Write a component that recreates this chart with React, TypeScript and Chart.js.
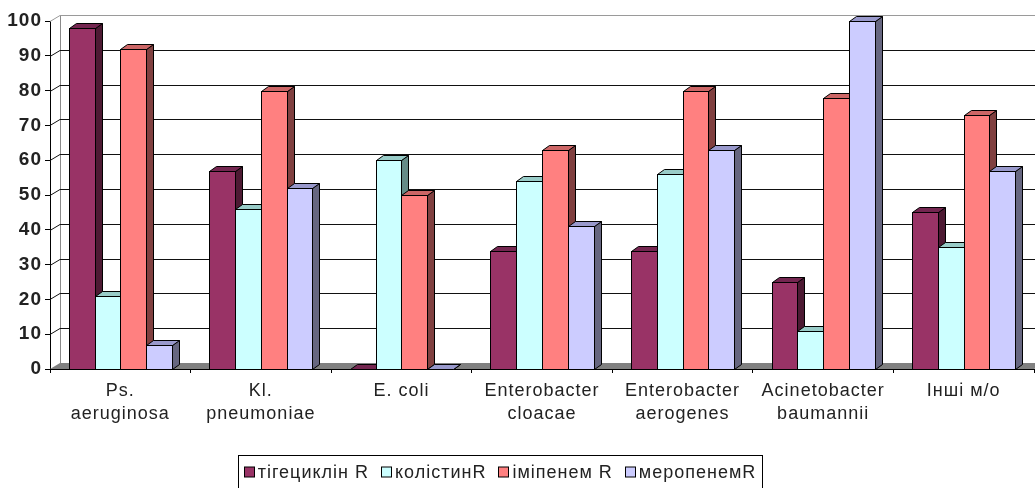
import React, { useEffect, useRef } from 'react';
import { Chart, registerables } from 'chart.js';

Chart.register(...registerables);

// ---- data ----
const categories: string[][] = [
  ['Ps.', 'aeruginosa'],
  ['Kl.', 'pneumoniae'],
  ['E. coli'],
  ['Enterobacter', 'cloacae'],
  ['Enterobacter', 'aerogenes'],
  ['Acinetobacter', 'baumannii'],
  ['Інші м/о'],
];
const seriesNames = ['тігециклін R', 'колістинR', 'іміпенем R', 'меропенемR'];
const tigecycline = [98, 57, 0, 34, 34, 25, 45];
const colistin = [21, 46, 60, 54, 56, 11, 35];
const imipenem = [92, 80, 50, 63, 80, 78, 73];
const meropenem = [7, 52, 0, 41, 63, 100, 57];
const yTicks = [0, 10, 20, 30, 40, 50, 60, 70, 80, 90, 100];

// ---- styles ----
const FONT = '"Liberation Sans", Arial, sans-serif';
const frontColors = ['#993366', '#CCFFFF', '#FF8080', '#CCCCFF'];
const topColors = ['#742650', '#99CCC8', '#CC6666', '#9999CC'];
const sideColors = ['#4D1A33', '#668C88', '#804040', '#666680'];
const WX = 10; // wall depth
const WY = -6;
const BX = 7; // bar depth
const BY = -5;
const SPACING = '1px';

const threeD = {
  id: 'threeD',
  beforeDraw(chart: any) {
    chart.ctx.letterSpacing = SPACING;
  },
  beforeDatasetsDraw(chart: any) {
    const { ctx, chartArea: a, scales } = chart;
    const y = scales.y;
    ctx.save();
    const base = y.getPixelForValue(0);
    // floor
    ctx.fillStyle = '#808080';
    ctx.beginPath();
    ctx.moveTo(a.left, base);
    ctx.lineTo(a.left + WX, base + WY);
    ctx.lineTo(a.right + WX, base + WY);
    ctx.lineTo(a.right, base);
    ctx.closePath();
    ctx.fill();
    // wall left edge
    const topY = Math.round(y.getPixelForValue(100) + WY) + 0.5;
    ctx.strokeStyle = '#8a8a8a';
    ctx.lineWidth = 1;
    ctx.beginPath();
    ctx.moveTo(a.left + WX + 0.5, topY);
    ctx.lineTo(a.left + WX + 0.5, base + WY);
    ctx.stroke();
    // grid lines on side + back wall
    yTicks.forEach((v) => {
      if (v === 0) return;
      const py = Math.round(y.getPixelForValue(v)) + 0.5;
      ctx.strokeStyle = v === 100 ? '#9a9a9a' : '#111';
      ctx.beginPath();
      ctx.moveTo(a.left, py);
      ctx.lineTo(a.left + WX, py + WY);
      ctx.lineTo(a.right + WX, py + WY);
      ctx.stroke();
    });
    ctx.restore();
  },
  beforeDatasetDraw() {
    return false;
  },
  afterDatasetsDraw(chart: any) {
    const { ctx } = chart;
    ctx.save();
    ctx.lineWidth = 1;
    ctx.strokeStyle = '#000';
    ctx.lineJoin = 'miter';
    const n = chart.data.labels.length;
    const nds = chart.data.datasets.length;
    for (let i = 0; i < n; i++) {
      for (let d = 0; d < nds; d++) {
        const el = chart.getDatasetMeta(d).data[i];
        if (!el) continue;
        const { x, y, width, base } = el.getProps(['x', 'y', 'width', 'base'], true);
        const l = Math.round(x - width / 2) + 0.5;
        const r = Math.round(x + width / 2) + 0.5;
        const t = Math.round(y) + 0.5;
        const b = Math.round(base) + 0.5;
        // side
        ctx.fillStyle = sideColors[d];
        ctx.beginPath();
        ctx.moveTo(r, t);
        ctx.lineTo(r + BX, t + BY);
        ctx.lineTo(r + BX, b + BY);
        ctx.lineTo(r, b);
        ctx.closePath();
        ctx.fill();
        ctx.stroke();
        // top
        ctx.fillStyle = topColors[d];
        ctx.beginPath();
        ctx.moveTo(l, t);
        ctx.lineTo(l + BX, t + BY);
        ctx.lineTo(r + BX, t + BY);
        ctx.lineTo(r, t);
        ctx.closePath();
        ctx.fill();
        ctx.stroke();
        // front
        if (b - t > 0.5) {
          ctx.fillStyle = frontColors[d];
          ctx.fillRect(l, t, r - l, b - t);
          ctx.strokeRect(l, t, r - l, b - t);
        }
      }
    }
    ctx.restore();
  },
  afterDraw(chart: any) {
    const { ctx } = chart;
    ctx.save();
    ctx.letterSpacing = SPACING;
    ctx.font = `18px ${FONT}`;
    const marker = 10;
    const gapText = 4;
    const gapItem = 12;
    const widths = seriesNames.map((s) => ctx.measureText(s).width);
    const total =
      widths.reduce((s, w) => s + w, 0) + seriesNames.length * (marker + gapText) + (seriesNames.length - 1) * gapItem;
    const boxL = 238;
    const boxR = 762;
    const cx = (boxL + boxR) / 2;
    let xx = cx - total / 2;
    const cy = 472.5;
    ctx.strokeStyle = '#000';
    ctx.lineWidth = 1;
    ctx.strokeRect(boxL + 0.5, 455.5, boxR - boxL, 40);
    ctx.textBaseline = 'middle';
    ctx.textAlign = 'left';
    seriesNames.forEach((s, i) => {
      ctx.fillStyle = frontColors[i];
      const mx = Math.round(xx) + 0.5;
      ctx.fillRect(mx, cy - 5.5, marker, marker);
      ctx.strokeStyle = '#000';
      ctx.strokeRect(mx, cy - 5.5, marker, marker);
      ctx.fillStyle = '#222';
      ctx.fillText(s, xx + marker + gapText, cy + 1);
      xx += marker + gapText + widths[i] + gapItem;
    });
    ctx.restore();
  },
};

export default function App() {
  const ref = useRef<HTMLCanvasElement>(null);
  useEffect(() => {
    if (!ref.current) return;
    const values = [tigecycline, colistin, imipenem, meropenem];
    const chart = new Chart(ref.current, {
      type: 'bar',
      data: {
        labels: categories,
        datasets: seriesNames.map((name, i) => ({
          label: name,
          data: values[i],
          backgroundColor: frontColors[i],
          borderColor: '#000',
          borderWidth: 1,
          categoryPercentage: 0.733,
          barPercentage: 1,
        })),
      },
      options: {
        responsive: false,
        animation: false,
        layout: { padding: { top: 21, right: 1, left: 0, bottom: 0 } },
        plugins: { legend: { display: false }, tooltip: { enabled: false } },
        scales: {
          x: {
            grid: { display: true, drawOnChartArea: false, offset: true, color: '#000', tickLength: 4 },
            border: { display: true, color: '#000', width: 1 },
            ticks: {
              color: '#222',
              font: { family: FONT, size: 18, lineHeight: '23px' as any },
              padding: 7,
              maxRotation: 0,
              autoSkip: false,
            },
            afterFit(scale: any) {
              scale.height = 119;
            },
          },
          y: {
            min: 0,
            max: 100,
            grid: { display: true, drawOnChartArea: false, color: '#000', tickLength: 5 },
            border: { display: true, color: '#000', width: 1 },
            ticks: {
              stepSize: 10,
              color: '#222',
              font: { family: FONT, size: 19, weight: 'bold' },
              padding: 3,
            },
            afterFit(scale: any) {
              scale.width = 50;
            },
          },
        },
      },
      plugins: [threeD],
    });
    return () => chart.destroy();
  }, []);
  return (
    <div style={{ position: 'fixed', left: 0, top: 0, width: 1035, height: 488, background: '#fff' }}>
      <canvas ref={ref} width={1035} height={488} style={{ display: 'block' }} />
    </div>
  );
}
